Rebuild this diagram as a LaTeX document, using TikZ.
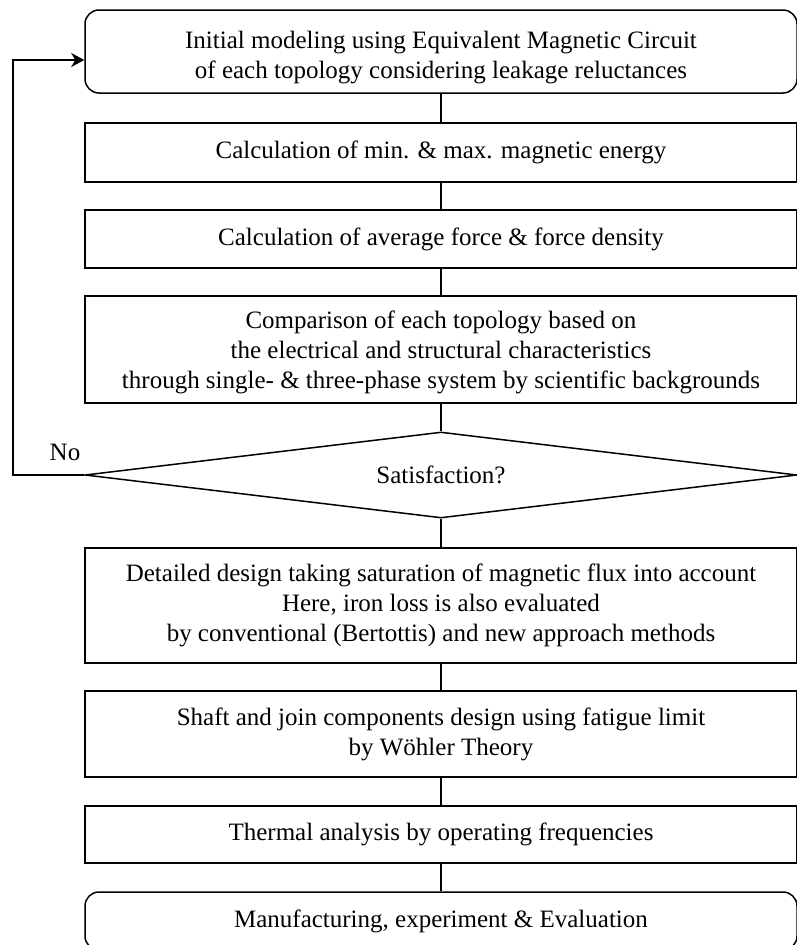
\documentclass[tikz,border=0pt]{standalone}
\usepackage{fontspec}
\setmainfont{Liberation Serif}
\usetikzlibrary{shapes.geometric,arrows.meta}
\begin{document}
\begin{tikzpicture}[x=1pt,y=-1pt,
  txt/.style={font=\fontsize{25}{30}\selectfont},
  box/.style={txt,draw,line width=1.5pt,minimum width=712pt,inner sep=0pt,align=center},
  rbox/.style={box,rounded corners=14pt},
  dec/.style={txt,draw,diamond,aspect=8.3,line width=1.5pt,minimum width=712pt,minimum height=86pt,inner sep=0pt},
  link/.style={line width=1.5pt},
  lab/.style={txt,inner sep=0pt}]
\useasboundingbox (0,0) rectangle (797,945);
\node[rbox,minimum height=83pt] (b1) at (441,51.5) {\rule{0pt}{29pt}Initial modeling using Equivalent Magnetic Circuit\\of each topology considering leakage reluctances};
\node[box,minimum height=59pt] (b2) at (441,152.5) {Calculation of min. \& max. magnetic energy};
\node[box,minimum height=58pt] (b3) at (441,239) {Calculation of average force \& force density};
\node[box,minimum height=107pt] (b4) at (441,349.5) {\rule{0pt}{24pt}Comparison of each topology based on\\the electrical and structural characteristics\\through single- \& three-phase system by scientific backgrounds};
\node[dec] (d) at (441,475) {Satisfaction?};
\node[box,minimum height=115pt] (b5) at (441,605.5) {Detailed design taking saturation of magnetic flux into account\\Here, iron loss is also evaluated\\by conventional (Bertottis) and new approach methods};
\node[box,minimum height=86pt] (b6) at (441,734) {Shaft and join components design using fatigue limit\\by Wöhler Theory};
\node[box,minimum height=57pt] (b7) at (441,834.5) {Thermal analysis by operating frequencies};
\node[rbox,minimum height=58pt] (b8) at (441,921) {Manufacturing, experiment \& Evaluation};
\draw[link] (b1) -- (b2);
\draw[link] (b2) -- (b3);
\draw[link] (b3) -- (b4);
\draw[link] (b4) -- (d);
\draw[link] (d) -- (b5);
\draw[link] (b5) -- (b6);
\draw[link] (b6) -- (b7);
\draw[link] (b7) -- (b8);
\coordinate (c1) at (13,475);
\coordinate (c2) at (13,60);
\draw[link,-{Stealth[length=13pt,width=14pt,inset=4pt]}] (d.west) -- (c1) -- (c2) -- (b1.west |- c2);
\node[lab] (no) at (65,452) {No};
\end{tikzpicture}
\end{document}
